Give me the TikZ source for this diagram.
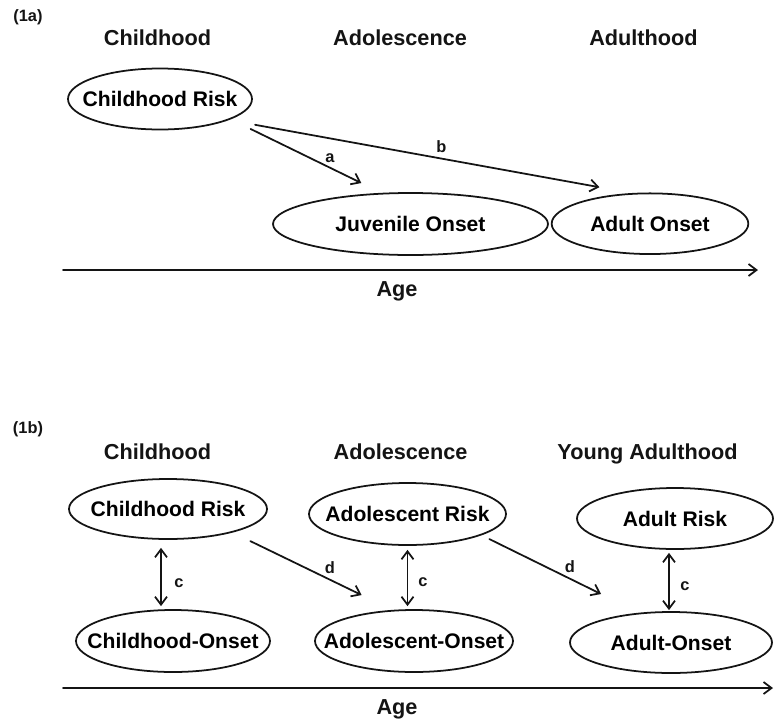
\documentclass[tikz,border=0pt]{standalone}
\usepackage{fontspec}
\setmainfont{Liberation Sans}
\usepackage{tikz}
\usetikzlibrary{arrows.meta,shapes.geometric}
\usepackage{xcolor}
\definecolor{negro}{HTML}{141414}

\begin{document}
\begin{tikzpicture}[x=0.03cm,y=-0.03cm,line cap=round,
    >={Straight Barb[length=0.24cm,width=0.36cm]},
    elip/.style={draw=negro,ellipse,line width=1.5pt,inner sep=0pt,
      font=\fontsize{18}{20}\selectfont\bfseries},
    head/.style={font=\fontsize{18.5}{20}\selectfont\bfseries,text=negro,
      text depth=0pt},
    lbl/.style={font=\fontsize{14}{16}\selectfont\bfseries,text=negro},
    flecha/.style={->,draw=negro,line width=1.5pt},
    dflecha/.style={<->,draw=negro,line width=1.5pt}]
  \useasboundingbox (0,0) rectangle (774,721);
  % panel (1a)
  \node[lbl] (p1a) at (28,17) {(1a)};
  \node[head] (h1a) at (157.5,38) {Childhood};
  \node[head] (h2a) at (400,38) {Adolescence};
  \node[head] (h3a) at (643.5,38) {Adulthood};
  \node[elip,minimum width=5.52cm,minimum height=1.83cm] (cr1) at (160,99)
    {\makebox[0pt]{Childhood Risk}};
  \node[elip,minimum width=8.25cm,minimum height=1.86cm] (jo) at (410.5,224)
    {\makebox[0pt]{Juvenile Onset}};
  \node[elip,minimum width=5.9cm,minimum height=1.82cm] (ao1) at (650,223.7)
    {\makebox[0pt]{Adult Onset}};
  \draw[flecha,shorten <=0.66cm,shorten >=0.67cm] (cr1.-16.7) -- (jo.133.2);
  \draw[flecha,shorten <=0.8cm,shorten >=0.98cm] (cr1.-17.9) -- (ao1.121);
  \node[lbl] (la) at (330,158) {a};
  \node[lbl] (lb) at (441.5,147) {b};
  % eje de edad
  \coordinate (ax1s) at (63,270);
  \coordinate (ax1e) at (758,270);
  \draw[flecha] (ax1s) -- (ax1e);
  \node[head] (age1) at (397,289) {Age};

  % panel (1b)
  \node[lbl] (p1b) at (28,429) {(1b)};
  \node[head] (h1b) at (157.5,452) {Childhood};
  \node[head] (h2b) at (400.5,452) {Adolescence};
  \node[head] (h3b) at (647.5,452) {Young Adulthood};
  \node[elip,minimum width=5.94cm,minimum height=1.8cm] (cr2) at (168,509)
    {\makebox[0pt]{Childhood Risk}};
  \node[elip,minimum width=5.91cm,minimum height=1.86cm] (ar2) at (407.5,514)
    {\makebox[0pt]{Adolescent Risk}};
  \node[elip,minimum width=5.88cm,minimum height=1.83cm] (adr) at (675,518.5)
    {\makebox[0pt]{Adult Risk}};
  \node[elip,minimum width=5.82cm,minimum height=1.86cm] (co) at (173,641)
    {\makebox[0pt]{Childhood-Onset}};
  \node[elip,minimum width=5.94cm,minimum height=1.86cm] (aso) at (414,641)
    {\makebox[0pt]{Adolescent-Onset}};
  \node[elip,minimum width=6.06cm,minimum height=1.83cm] (ado) at (671,642.5)
    {\makebox[0pt]{Adult-Onset}};
  % flechas c (dobles)
  \draw[dflecha,shorten <=0.24cm,shorten >=0.09cm]
    ([xshift=-0.21cm]cr2.south) -- ([xshift=-0.21cm]cr2.south |- co.north);
  \draw[dflecha,shorten <=0.12cm,shorten >=0.09cm]
    (ar2.south) -- (ar2.south |- aso.north);
  \draw[dflecha,shorten <=0.09cm,shorten >=0.03cm]
    ([xshift=-0.18cm]adr.south) -- ([xshift=-0.18cm]adr.south |- ado.north);
  \node[lbl] (lc1) at (179,583) {c};
  \node[lbl] (lc2) at (423,582) {c};
  \node[lbl] (lc3) at (685,586) {c};
  % flechas d
  \draw[flecha,shorten <=0.59cm,shorten >=1.02cm] (cr2.-20.6) -- (aso.125.3);
  \draw[flecha,shorten <=0.26cm,shorten >=1.27cm] (ar2.-16.5) -- (ado.137);
  \node[lbl] (ld1) at (330,568) {d};
  \node[lbl] (ld2) at (570,567) {d};
  % eje de edad
  \coordinate (ax2s) at (63,688);
  \coordinate (ax2e) at (773,688);
  \draw[flecha] (ax2s) -- (ax2e);
  \node[head] (age2) at (397,707) {Age};
\end{tikzpicture}
\end{document}
